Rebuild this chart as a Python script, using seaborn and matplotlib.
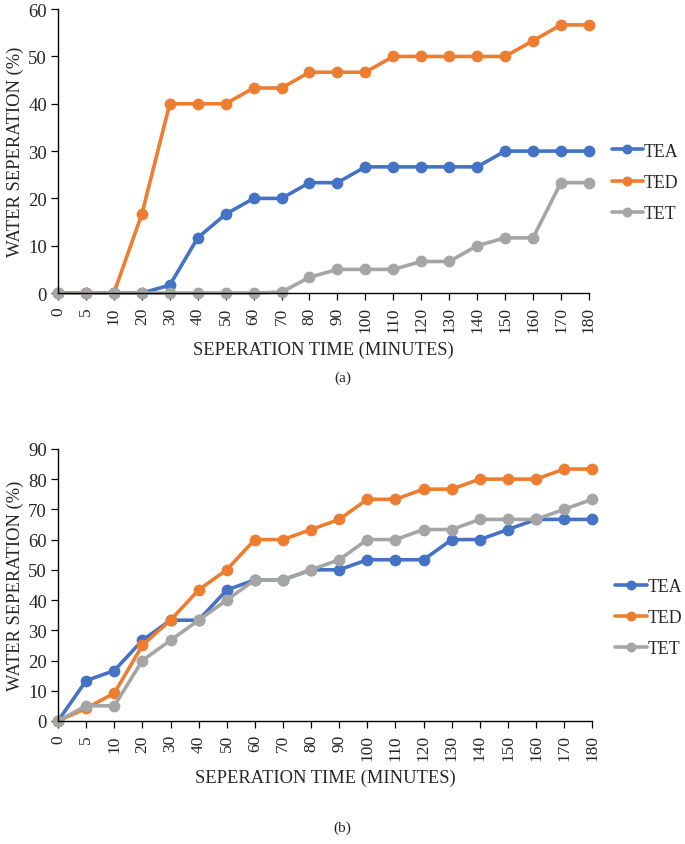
import matplotlib
matplotlib.use("Agg")
import matplotlib.pyplot as plt
import seaborn as sns
import pandas as pd

# Separation times (minutes) - treated as categories
times = ["0", "5", "10", "20", "30", "40", "50", "60", "70", "80", "90",
         "100", "110", "120", "130", "140", "150", "160", "170", "180"]

# (a) water separation (%)
tea_a = [0, 0, 0, 0, 1.67, 11.67, 16.67, 20, 20, 23.33, 23.33, 26.67, 26.67,
         26.67, 26.67, 26.67, 30, 30, 30, 30]
ted_a = [0, 0, 0, 16.67, 40, 40, 40, 43.33, 43.33, 46.67, 46.67, 46.67, 50,
         50, 50, 50, 50, 53.33, 56.67, 56.67]
tet_a = [0, 0, 0, 0, 0, 0, 0, 0, 0.2, 3.33, 5, 5, 5, 6.67, 6.67, 10, 11.67,
         11.67, 23.33, 23.33]

# (b) water separation (%)
tea_b = [0, 13.33, 16.67, 26.67, 33.33, 33.33, 43.33, 46.67, 46.67, 50, 50,
         53.33, 53.33, 53.33, 60, 60, 63.33, 66.67, 66.67, 66.67]
ted_b = [0, 4.17, 9.17, 25, 33.33, 43.33, 50, 60, 60, 63.33, 66.67, 73.33,
         73.33, 76.67, 76.67, 80, 80, 80, 83.33, 83.33]
tet_b = [0, 5, 5, 20, 26.67, 33.33, 40, 46.67, 46.67, 50, 53.33, 60, 60,
         63.33, 63.33, 66.67, 66.67, 66.67, 70, 73.33]

series = ["TEA", "TED", "TET"]
colors = {"TEA": "#4472C4", "TED": "#ED7D31", "TET": "#A5A5A5"}

sns.set_style("ticks")
plt.rcParams["font.family"] = ["Liberation Serif", "DejaVu Serif"]


def make_df(tea, ted, tet):
    frames = []
    for name, vals in zip(series, [tea, ted, tet]):
        frames.append(pd.DataFrame({"time": times, "value": vals, "series": name}))
    return pd.concat(frames, ignore_index=True)


def draw(ax, df, ymax, step, leg_y):
    sns.pointplot(data=df, x="time", y="value", hue="series", order=times,
                  hue_order=series, palette=colors, markers="o",
                  markersize=6.5, linewidth=2.6, errorbar=None, ax=ax)
    for ln in ax.lines:
        ln.set_clip_on(False)
    ax.set_xlim(0, len(times) - 1)
    ax.set_ylim(0, ymax)
    ax.set_yticks(range(0, ymax + 1, step))
    ax.set_xlabel("SEPERATION TIME (MINUTES)", fontsize=13.3, labelpad=6)
    ax.set_ylabel("WATER SEPERATION (%)", fontsize=13.3, labelpad=3)
    ax.tick_params(axis="x", labelrotation=90, labelsize=12.5, length=5,
                   width=0.9, color="black", pad=4.5)
    ax.tick_params(axis="y", labelsize=13.5, length=5, width=0.9,
                   color="black", pad=3)
    sns.despine(ax=ax)
    for sp in ["left", "bottom"]:
        ax.spines[sp].set_linewidth(1.0)
        ax.spines[sp].set_color("black")
    ax.legend(loc="center left", bbox_to_anchor=(1.03, leg_y), frameon=False,
              fontsize=12.8, handlelength=1.75, handletextpad=0.05,
              labelspacing=0.8, borderaxespad=0, markerscale=0.8)


fig = plt.figure(figsize=(6.85, 8.45), dpi=100)

ax1 = fig.add_axes([0.0847, 0.652, 0.775, 0.336])
draw(ax1, make_df(tea_a, ted_a, tet_a), 60, 10, 0.39)

ax2 = fig.add_axes([0.0847, 0.1456, 0.78, 0.322])
draw(ax2, make_df(tea_b, ted_b, tet_b), 90, 10, 0.38)

fig.text(0.5, 1 - 378 / 845, "(a)", ha="center", va="center", fontsize=11)
fig.text(0.5, 1 - 828 / 845, "(b)", ha="center", va="center", fontsize=11)

fig.savefig("out.png", dpi=100)
